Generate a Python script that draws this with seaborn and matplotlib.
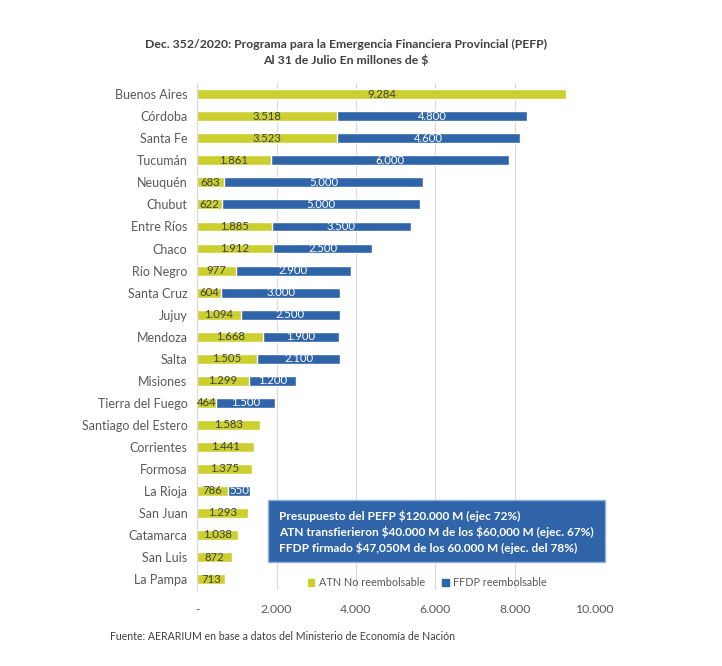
import matplotlib
matplotlib.use("Agg")
import matplotlib.pyplot as plt
import seaborn as sns
import pandas as pd
from matplotlib.patches import Rectangle, Patch

# --- Data ---
provincias = [
    "Buenos Aires", "Córdoba", "Santa Fe", "Tucumán", "Neuquén", "Chubut",
    "Entre Ríos", "Chaco", "Río Negro", "Santa Cruz", "Jujuy", "Mendoza",
    "Salta", "Misiones", "Tierra del Fuego", "Santiago del Estero",
    "Corrientes", "Formosa", "La Rioja", "San Juan", "Catamarca",
    "San Luis", "La Pampa",
]
atn = [9284, 3518, 3523, 1861, 683, 622, 1885, 1912, 977, 604, 1094, 1668,
       1505, 1299, 464, 1583, 1441, 1375, 786, 1293, 1038, 872, 713]
ffdp = [0, 4800, 4600, 6000, 5000, 5000, 3500, 2500, 2900, 3000, 2500, 1900,
        2100, 1200, 1500, 0, 0, 0, 550, 0, 0, 0, 0]
xticks = [0, 2000, 4000, 6000, 8000, 10000]
xtick_labels = ["-", "2.000", "4.000", "6.000", "8.000", "10.000"]

titulo = ("Dec. 352/2020: Programa para la Emergencia Financiera Provincial (PEFP)\n"
          "Al 31 de Julio En millones de \\$")
nota = ["Presupuesto del PEFP \\$120.000 M (ejec 72%)",
        "ATN transfierieron \\$40.000 M de los \\$60,000 M (ejec. 67%)",
        "FFDP firmado \\$47,050M de los 60.000 M (ejec. del 78%)"]
fuente = "Fuente: AERARIUM en base a datos del Ministerio de Economía de Nación"

YELLOW = "#CBD02F"
BLUE = "#2F65A8"
GREY = "#595959"


def fmt(v):
    return f"{v:,}".replace(",", ".")


df = pd.DataFrame({"prov": provincias, "atn": atn, "ffdp": ffdp})
df["total"] = df["atn"] + df["ffdp"]

# --- Plot ---
sns.set_style("white")
plt.rcParams["font.family"] = ["Lato", "DejaVu Sans"]

fig = plt.figure(figsize=(7.22, 6.66), dpi=100)
ax = fig.add_axes([0.273, 0.114, 0.550, 0.761])

# blue = total (ATN + FFDP), yellow ATN drawn over it
sns.barplot(data=df, y="prov", x="total", color=BLUE, orient="h",
            width=0.45, saturation=1, ax=ax, order=provincias)
sns.barplot(data=df, y="prov", x="atn", color=YELLOW, orient="h",
            width=0.45, saturation=1, ax=ax, order=provincias)

for i, row in df.iterrows():
    ax.text(row["atn"] / 2, i, fmt(row["atn"]), ha="center", va="center",
            fontsize=8.2, color="#404040")
    if row["ffdp"] > 0:
        ax.text(row["atn"] + row["ffdp"] / 2, i, fmt(row["ffdp"]),
                ha="center", va="center", fontsize=8.2, color="white")

ax.set_xlim(0, 10000)
ax.set_ylim(len(provincias) - 0.5, -0.5)
ax.set_xticks(xticks)
ax.set_xticklabels(xtick_labels)
ax.xaxis.grid(True, color="#D9D9D9", linewidth=0.8)
ax.set_axisbelow(True)
ax.set_xlabel("")
ax.set_ylabel("")
ax.tick_params(axis="y", length=0, pad=7, labelsize=9, labelcolor=GREY)
ax.tick_params(axis="x", length=0, pad=10, labelsize=8.8, labelcolor=GREY)
for s in ["top", "right", "bottom"]:
    ax.spines[s].set_visible(False)
ax.spines["left"].set_color("#D9D9D9")
ax.spines["left"].set_linewidth(0.8)

# legend
handles = [Patch(color=YELLOW, label="ATN No reembolsable"),
           Patch(color=BLUE, label="FFDP reembolsable")]
fig.legend(handles=handles, loc="center left",
           bbox_to_anchor=(298 / 722, 1 - 583 / 666),
           ncol=2, frameon=False, fontsize=7.8, handlelength=0.6,
           handleheight=0.6, handletextpad=0.4, columnspacing=1.6,
           labelcolor=GREY)

# note box
fig.patches.append(Rectangle((268 / 722, 1 - 562 / 666), 337 / 722, 62 / 666,
                             transform=fig.transFigure, facecolor=BLUE,
                             edgecolor="#8FB0D8", linewidth=1, zorder=5))
for k, line in enumerate(nota):
    fig.text(279 / 722, 1 - (516 + 16 * k) / 666, line, color="white",
             fontsize=8.6, fontweight="bold", va="center", ha="left", zorder=6)

fig.text(0.479, 1 - 52 / 666, titulo, ha="center", va="center",
         fontsize=8.8, fontweight="bold", color="#404040", linespacing=1.4)
fig.text(110 / 722, 1 - 636 / 666, fuente, ha="left", va="center",
         fontsize=7.6, color="#404040")

fig.savefig("out.png", dpi=100)
